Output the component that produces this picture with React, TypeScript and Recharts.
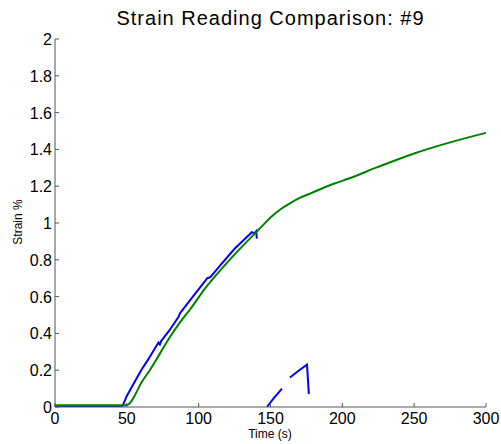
import React from "react"
import { LineChart, Line, XAxis, YAxis } from "recharts"

// time (s) and strain (%)
const greenTime = [0, 20, 40, 50, 52, 56, 60, 66, 73, 80, 87, 94, 105, 117, 130, 140, 145, 150, 157, 163.5, 170, 177.5, 185, 194, 205, 224, 250, 275, 300]
const greenStrain = [0.01, 0.01, 0.01, 0.01, 0.02, 0.07, 0.13, 0.2, 0.29, 0.38, 0.46, 0.53, 0.65, 0.76, 0.87, 0.95, 0.99, 1.03, 1.075, 1.107, 1.135, 1.16, 1.185, 1.213, 1.243, 1.302, 1.378, 1.438, 1.49]

const blueTime = [0, 20, 40, 47, 50, 55, 60, 65, 72, 73, 74, 80, 86, 87, 88, 95, 104, 105, 106, 108, 115, 125, 135, 137, 139, 140, 140.5, 144, 147.5, 152, 158, 160, 163.5, 170, 175.4, 176.7]
const blueStrain = [0, 0, 0, 0.005, 0.06, 0.13, 0.2, 0.26, 0.35, 0.34, 0.36, 0.42, 0.49, 0.51, 0.52, 0.59, 0.68, 0.69, 0.7, 0.705, 0.77, 0.86, 0.935, 0.95, 0.945, 0.955, 0.915, null, 0, 0.045, 0.1, null, 0.16, 0.2, 0.23, 0.07]

const xTicks = [0, 50, 100, 150, 200, 250, 300]
const yTicks = [0, 0.2, 0.4, 0.6, 0.8, 1, 1.2, 1.4, 1.6, 1.8, 2]

const greenData = greenTime.map((t, i) => ({ t, v: greenStrain[i] }))
const blueData = blueTime.map((t, i) => ({ t, v: blueStrain[i] }))

const AXIS = "#555"
const FONT = "'Liberation Sans', Arial, sans-serif"

const XTick = (props: any) => {
  const { x, y, payload } = props
  return (
    <g>
      <line x1={x} x2={x} y1={y} y2={y - 4} stroke={AXIS} />
      <text x={x} y={y + 17} textAnchor="middle" fontSize={16} fontFamily={FONT} fill="#000">
        {payload.value}
      </text>
    </g>
  )
}

const YTick = (props: any) => {
  const { x, y, payload } = props
  return (
    <g>
      <line x1={x} x2={x + 4} y1={y} y2={y} stroke={AXIS} />
      <text x={x - 3} y={y + 6} textAnchor="end" fontSize={16} fontFamily={FONT} fill="#000">
        {String(payload.value)}
      </text>
    </g>
  )
}

export default function App() {
  return (
    <div style={{ position: "absolute", left: 0, top: 0, width: 501, height: 444, background: "#fff", fontFamily: FONT }}>
      <div style={{ position: "absolute", left: 55, width: 431, top: 7, textAlign: "center", fontSize: 20, letterSpacing: 1 }}>
        Strain Reading Comparison: #9
      </div>
      <div
        style={{
          position: "absolute",
          left: 18,
          top: 222,
          fontSize: 12,
          whiteSpace: "nowrap",
          transform: "translate(-50%, -50%) rotate(-90deg)",
        }}
      >
        Strain %
      </div>
      <div style={{ position: "absolute", left: 270, top: 427, fontSize: 12, transform: "translateX(-50%)", whiteSpace: "nowrap" }}>
        Time (s)
      </div>
      <LineChart width={501} height={444} margin={{ top: 39, right: 15, bottom: 0, left: 0 }}>
        <XAxis
          dataKey="t"
          type="number"
          domain={[0, 300]}
          ticks={xTicks}
          height={37}
          stroke={AXIS}
          tickLine={false}
          tickSize={0}
          tickMargin={0}
          tick={<XTick />}
          allowDataOverflow
        />
        <YAxis
          type="number"
          domain={[0, 2]}
          ticks={yTicks}
          width={55}
          stroke={AXIS}
          tickLine={false}
          tickSize={0}
          tickMargin={0}
          tick={<YTick />}
          allowDataOverflow
        />
        <Line data={blueData} dataKey="v" stroke="#0000ff" strokeWidth={2} dot={false} isAnimationActive={false} connectNulls={false} />
        <Line data={greenData} dataKey="v" type="monotone" stroke="#008000" strokeWidth={2} dot={false} isAnimationActive={false} />
      </LineChart>
    </div>
  )
}
